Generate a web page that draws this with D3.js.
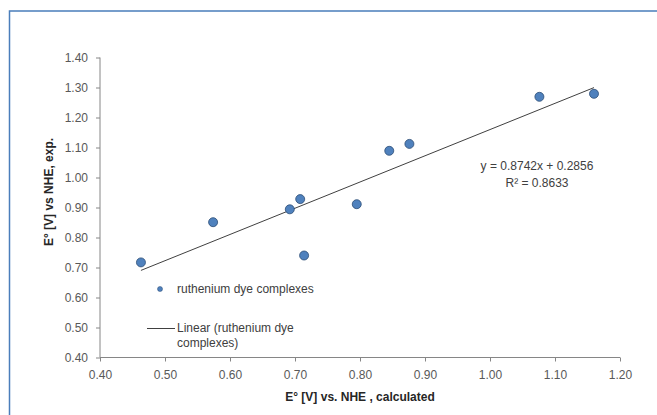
<!DOCTYPE html>
<html lang="en">
  <head>
    <meta charset="utf-8">
    <title></title>
    <style>
      body { margin: 0; background: #fff; }
      .chart text { font-family: "Liberation Sans", Arial, sans-serif; }
      .axis path, .axis line { stroke: #868686; }
      .axis text { fill: #595959; font-size: 12px; }
    </style>
  </head>
  <body>
    <svg class="chart"></svg>

    <script src="https://cdn.jsdelivr.net/npm/d3@7"></script>
    <script type="text/javascript">
    // calculated vs experimental potentials (V vs NHE)
    var xCalc = [0.463, 0.574, 0.692, 0.708, 0.714, 0.795, 0.845, 0.876, 1.076, 1.160];
    var yExp  = [0.717, 0.851, 0.894, 0.928, 0.740, 0.911, 1.089, 1.112, 1.269, 1.279];
    var xTicks = [0.40, 0.50, 0.60, 0.70, 0.80, 0.90, 1.00, 1.10, 1.20];
    var yTicks = [0.40, 0.50, 0.60, 0.70, 0.80, 0.90, 1.00, 1.10, 1.20, 1.30, 1.40];
    var slope = 0.8742, intercept = 0.2856;
    var eqLabel = "y = 0.8742x + 0.2856";
    var r2Label = "R\u00b2 = 0.8633";
    var seriesName = "ruthenium dye complexes";
    var trendName = ["Linear (ruthenium dye", "complexes)"];

    var W = 657, H = 415;
    var x = d3.scaleLinear().domain([0.40, 1.20]).range([100, 620]);
    var y = d3.scaleLinear().domain([0.40, 1.40]).range([357.5, 57.5]);

    var svg = d3.select(".chart").attr("width", W).attr("height", H);

    // chart area frame
    svg.append("rect")
      .attr("x", 9.5).attr("y", 11)
      .attr("width", 700).attr("height", 450)
      .attr("fill", "#fff")
      .attr("stroke", "#4a7ebb")
      .attr("stroke-width", 1.5);

    var fmt = d3.format(".2f");

    svg.append("g")
      .attr("class", "x axis")
      .attr("transform", "translate(0," + y(0.40) + ")")
      .call(d3.axisBottom(x).tickValues(xTicks).tickFormat(fmt).tickSizeOuter(4).tickSize(4).tickPadding(9))
      .select(".domain").attr("d", "M" + x(0.40) + ",0H" + x(1.20));

    svg.append("g")
      .attr("class", "y axis")
      .attr("transform", "translate(" + x(0.40) + ",0)")
      .call(d3.axisLeft(y).tickValues(yTicks).tickFormat(fmt).tickSize(4).tickPadding(8))
      .select(".domain").attr("d", "M0," + y(1.40) + "V" + y(0.40));

    svg.selectAll(".axis text").attr("font-family", "Liberation Sans, Arial, sans-serif");

    // axis titles
    svg.append("text")
      .attr("x", 360).attr("y", 401)
      .attr("text-anchor", "middle")
      .attr("font-size", 12).attr("font-weight", "bold").attr("fill", "#262626")
      .text("E\u00b0 [V] vs. NHE , calculated");

    svg.append("text")
      .attr("transform", "translate(53,192) rotate(-90)")
      .attr("text-anchor", "middle")
      .attr("font-size", 12).attr("font-weight", "bold").attr("fill", "#262626")
      .text("E\u00b0 [V] vs NHE, exp.");

    // linear trendline
    var xMin = d3.min(xCalc), xMax = d3.max(xCalc);
    svg.append("line")
      .attr("x1", x(xMin)).attr("y1", y(slope * xMin + intercept))
      .attr("x2", x(xMax)).attr("y2", y(slope * xMax + intercept))
      .attr("stroke", "#404040")
      .attr("stroke-width", 1);

    var pts = xCalc.map(function(d, i) { return {x: d, y: yExp[i]}; });
    svg.selectAll(".dot")
      .data(pts)
      .enter().append("circle")
        .attr("class", "dot")
        .attr("cx", function(d) { return x(d.x); })
        .attr("cy", function(d) { return y(d.y); })
        .attr("r", 4.5)
        .attr("fill", "#4f81bd")
        .attr("stroke", "#2c4d75")
        .attr("stroke-width", 0.8);

    // equation
    svg.append("text")
      .attr("x", 537).attr("y", 170)
      .attr("text-anchor", "middle").attr("font-size", 12).attr("fill", "#404040")
      .text(eqLabel);
    svg.append("text")
      .attr("x", 537).attr("y", 187)
      .attr("text-anchor", "middle").attr("font-size", 12).attr("fill", "#404040")
      .text(r2Label);

    // legend
    svg.append("circle")
      .attr("cx", 160).attr("cy", 289).attr("r", 2.5)
      .attr("fill", "#4f81bd").attr("stroke", "#2c4d75").attr("stroke-width", 0.5);
    svg.append("text")
      .attr("x", 177).attr("y", 293)
      .attr("font-size", 12).attr("fill", "#404040")
      .text(seriesName);
    svg.append("line")
      .attr("x1", 147).attr("y1", 328.5).attr("x2", 175).attr("y2", 328.5)
      .attr("stroke", "#404040").attr("stroke-width", 1);
    svg.selectAll(".trendLabel")
      .data(trendName)
      .enter().append("text")
        .attr("class", "trendLabel")
        .attr("x", 177)
        .attr("y", function(d, i) { return 332 + i * 14.5; })
        .attr("font-size", 12).attr("fill", "#404040")
        .text(function(d) { return d; });
    </script>
  </body>
</html>
